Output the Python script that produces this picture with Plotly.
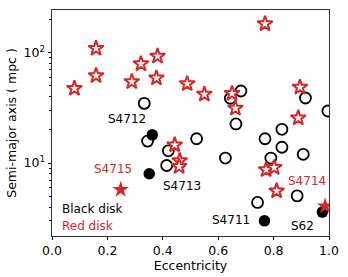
import plotly.graph_objects as go
import numpy as np

# Red disk, open stars
red_open_e = [0.081, 0.159, 0.159, 0.288, 0.321, 0.381, 0.377, 0.488, 0.550, 0.650, 0.662, 0.769, 0.895, 0.889,
              0.443, 0.461, 0.459, 0.773, 0.802, 0.811]
red_open_a = [47.4, 109, 61.7, 54.5, 79, 92.7, 58.8, 52.2, 41.9, 42.6, 31.3, 182, 48.5, 25.6,
              14.6, 10.5, 9.3, 8.7, 9.1, 5.6]
# Red disk, filled stars (S4715, S4714)
red_fill_e = [0.248, 0.986]
red_fill_a = [5.75, 4.07]

# Black disk, open circles
black_open_e = [0.333, 0.644, 0.682, 0.664, 0.915, 0.996, 0.830, 0.769, 0.522,
                0.345, 0.420, 0.414, 0.626, 0.830, 0.790, 0.907, 0.742, 0.885]
black_open_a = [34.7, 38.6, 44.9, 22.6, 38.8, 29.6, 20.2, 16.6, 16.6,
                15.8, 12.9, 9.5, 11.1, 13.9, 11.1, 12.0, 4.4, 5.05]
# Black disk, filled circles (S4712, S4713, S4711, S62)
black_fill_e = [0.362, 0.351, 0.767, 0.976]
black_fill_a = [18.0, 8.0, 3.0, 3.6]

labels = ["S4712", "S4713", "S4715", "S4714", "S4711", "S62"]
label_e = [0.270, 0.470, 0.219, 0.921, 0.646, 0.903]
label_a = [25.1, 6.17, 8.77, 6.89, 3.05, 2.69]
label_col = ["black", "black", "#d62728", "#d62728", "black", "black"]

RED = "#d62728"
fig = go.Figure()
fig.add_trace(go.Scatter(x=black_open_e, y=black_open_a, mode="markers",
                         marker=dict(symbol="circle-open", size=11, color="black", line=dict(width=1.8))))
fig.add_trace(go.Scatter(x=black_fill_e, y=black_fill_a, mode="markers",
                         marker=dict(symbol="circle", size=11.5, color="black")))
fig.add_trace(go.Scatter(x=red_open_e, y=red_open_a, mode="markers",
                         marker=dict(symbol="star", size=11.5, color="white", line=dict(color=RED, width=2))))
fig.add_trace(go.Scatter(x=red_fill_e, y=red_fill_a, mode="markers",
                         marker=dict(symbol="star", size=12.5, color=RED, line=dict(width=0))))

annotations = []
for t, e, a, c in zip(labels, label_e, label_a, label_col):
    annotations.append(dict(x=e, y=np.log10(a), xref="x", yref="y", text=t, showarrow=False,
                            font=dict(size=12, color=c), xanchor="center", yanchor="middle"))
annotations.append(dict(x=0.03, y=0.583, xref="x", yref="y", text="Black disk", showarrow=False,
                        font=dict(size=12, color="black"), xanchor="left", yanchor="middle"))
annotations.append(dict(x=0.03, y=0.43, xref="x", yref="y", text="Red disk", showarrow=False,
                        font=dict(size=12, color=RED), xanchor="left", yanchor="middle"))

minor_vals = [v * m for m in (1, 10, 100) for v in range(2, 10)]
fig.update_layout(
    width=348, height=277,
    margin=dict(l=52, r=17, t=9, b=41),
    paper_bgcolor="white", plot_bgcolor="white",
    showlegend=False,
    font=dict(family="DejaVu Sans", size=12, color="black"),
    annotations=annotations,
    xaxis=dict(range=[0, 1], tickvals=[0, 0.2, 0.4, 0.6, 0.8, 1.0],
               ticktext=["0.0", "0.2", "0.4", "0.6", "0.8", "1.0"],
               ticks="outside", ticklen=3.5, tickwidth=0.8, tickcolor="black",
               showgrid=False, zeroline=False, showline=True, linecolor="#333", linewidth=0.8,
               mirror=True, title=dict(text="Eccentricity", font=dict(size=12.5), standoff=0),
               tickfont=dict(size=12.5)),
    yaxis=dict(type="log", range=[0.34, 2.385], tickvals=[10, 100],
               ticktext=["10<sup>1</sup>", "10<sup>2</sup>"],
               ticks="outside", ticklen=3.5, tickwidth=0.8, tickcolor="black",
               minor=dict(tickvals=minor_vals, ticks="outside", ticklen=2, tickwidth=0.6, tickcolor="black"),
               showgrid=False, zeroline=False, showline=True, linecolor="#333", linewidth=0.8,
               mirror=True, title=dict(text="Semi-major axis ( mpc )", font=dict(size=12.5), standoff=4),
               tickfont=dict(size=12.5)),
)
fig.write_html("out.html", config={"displayModeBar": False},
               post_script="document.body.style.margin='0';")
